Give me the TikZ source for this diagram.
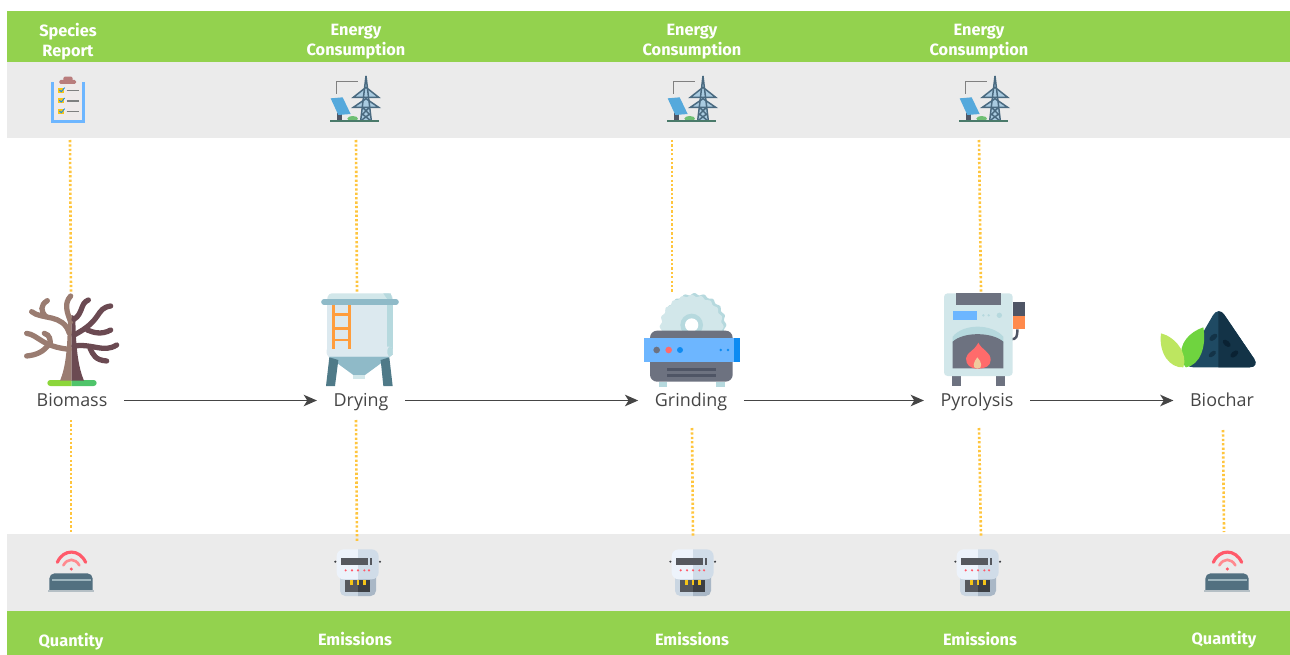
\documentclass[tikz,border=0pt]{standalone}
\usepackage{fontspec}
\setmainfont{Open Sans}
\newfontfamily\bandfont{Fira Sans}
\usetikzlibrary{arrows.meta}
\definecolor{bandgreen}{HTML}{93D24E}
\definecolor{bandgray}{HTML}{EBEBEB}
\definecolor{dotorange}{HTML}{FFC53D}
\definecolor{flowgray}{HTML}{454545}
\definecolor{barklight}{HTML}{9A7C71}
\definecolor{barkdark}{HTML}{6B4A52}
\definecolor{steel}{HTML}{6D7280}
\definecolor{darksteel}{HTML}{4F5565}
\definecolor{iceblue}{HTML}{D2E7EA}
\definecolor{paleblue}{HTML}{DCE9EF}
\definecolor{midblue}{HTML}{B6D9DE}
\definecolor{hopperblue}{HTML}{8FBAC8}
\definecolor{legblue}{HTML}{4F7A88}
\definecolor{skyblue}{HTML}{6DB6FF}
\definecolor{deepblue}{HTML}{0D8BF2}
\definecolor{ladderorange}{HTML}{FF9D3C}
\definecolor{softorange}{HTML}{FF8A4C}
\definecolor{flamered}{HTML}{FF6B6B}
\definecolor{flamecore}{HTML}{EFCB9E}
\definecolor{groundlight}{HTML}{8CD63A}
\definecolor{groundright}{HTML}{4FC46A}
\definecolor{charlight}{HTML}{1F4A63}
\definecolor{chardark}{HTML}{133347}
\definecolor{chardeep}{HTML}{0A2233}
\definecolor{leaflight}{HTML}{BDE660}
\definecolor{leafdark}{HTML}{6FD43F}
\definecolor{clipbrown}{HTML}{B97C7C}
\definecolor{checkyellow}{HTML}{F5C518}
\definecolor{paper}{HTML}{EFEAEA}
\definecolor{towerline}{HTML}{4A6A80}
\definecolor{towerfill}{HTML}{A9CBE0}
\definecolor{panelblue}{HTML}{55A9DC}
\definecolor{basegreen}{HTML}{4A7A6A}
\definecolor{bushgreen}{HTML}{6FBF73}
\definecolor{sensorbody}{HTML}{527080}
\definecolor{sensorline}{HTML}{9DB5BE}
\definecolor{sensorbase}{HTML}{B5BFC5}
\definecolor{wifired}{HTML}{FF5A6A}
\definecolor{wifisoft}{HTML}{FF8A8F}
\definecolor{plateleft}{HTML}{EDF3FB}
\definecolor{plateright}{HTML}{D0DCE8}
\definecolor{backleft}{HTML}{CAD6E2}
\definecolor{backright}{HTML}{A9B7C6}
\definecolor{windowgray}{HTML}{55585E}
\definecolor{windowdark}{HTML}{3C3F44}
\tikzset{
    bandtext/.style={text=white, align=center, inner sep=0pt, font=\bandfont\bfseries\fontsize{9.3}{11.1}\selectfont},
    stagelabel/.style={text=flowgray, inner xsep=0pt, inner ysep=0pt, text height=7pt, text depth=0pt, outer xsep=9.5pt, font=\fontsize{10.2}{12}\selectfont},
    flowarrow/.style={draw=flowgray, line width=1pt, -{Stealth[length=7.5pt,width=6.5pt,inset=2pt]}},
    dotline/.style={draw=dotorange, line width=1.5pt, dash pattern=on 1.3pt off 1.2pt},
    treeicon/.pic={
        \begin{scope}
            \clip (140,290) rectangle (215,325);
            \fill[rounded corners=1.7pt, groundlight] (142,300) rectangle (290,318);
        \end{scope}
        \begin{scope}
            \clip (215,290) rectangle (300,325);
            \fill[rounded corners=1.7pt, groundright] (142,300) rectangle (290,318);
        \end{scope}
        \fill[barklight] (180,302) .. controls (198,260) and (203,200) .. (204,110) -- (215,105) -- (215,302) -- cycle;
        \fill[barkdark] (252,302) .. controls (234,260) and (227,200) .. (226,110) -- (215,105) -- (215,302) -- cycle;
        \begin{scope}[draw=barklight, line width=3pt, line cap=round]
            \draw (212,48) .. controls (192,70) and (200,95) .. (212,125);
            \draw (95,95) .. controls (125,120) and (190,100) .. (208,160);
            \draw (142,62) .. controls (120,75) and (122,95) .. (138,110);
            \draw (80,160) .. controls (115,165) and (125,200) .. (208,208);
            \draw (133,160) .. controls (150,165) and (152,180) .. (150,195);
            \draw (80,228) .. controls (110,225) and (130,215) .. (145,195);
        \end{scope}
        \begin{scope}[draw=barkdark, line width=3pt, line cap=round]
            \draw (265,60) .. controls (240,70) and (250,100) .. (222,118);
            \draw (332,78) .. controls (285,85) and (310,120) .. (222,165);
            \draw (332,150) .. controls (305,165) and (280,158) .. (262,150);
            \draw (350,195) .. controls (310,220) and (280,190) .. (222,198);
            \draw (320,243) .. controls (285,240) and (280,225) .. (270,205);
        \end{scope}
    },
    siloicon/.pic={
        \fill[rounded corners=2pt, iceblue] (980,66) -- (985,40) -- (1175,40) -- (1180,66) -- cycle;
        \fill[midblue] (1150,40) -- (1172,40) -- (1178,62) -- (1165,62) -- cycle;
        \fill[paleblue] (980,70) rectangle (1178,225);
        \fill[midblue] (1162,70) rectangle (1178,225);
        \fill[rounded corners=2pt, paleblue] (980,200) -- (980,230) -- (1178,230) -- (1178,200) -- cycle;
        \fill[rounded corners=2pt, midblue] (1162,200) -- (1162,230) -- (1178,230) -- (1178,200) -- cycle;
        \fill[hopperblue] (985,230) -- (1170,230) -- (1095,285) -- (1060,285) -- cycle;
        \fill[iceblue] (1060,285) rectangle (1095,298);
        \fill[legblue] (988,232) -- (1015,240) -- (1005,318) -- (978,318) -- cycle;
        \fill[legblue] (1142,240) -- (1168,232) -- (1178,318) -- (1150,318) -- cycle;
        \draw[line width=3.2pt, line cap=round, hopperblue] (972,66) -- (1188,66);
        \begin{scope}[draw=ladderorange, line width=1.5pt]
            \draw (1000,75) -- (1000,208);
            \draw (1048,75) -- (1048,208);
            \draw (1000,103) -- (1048,103);
            \draw (1000,145) -- (1048,145);
            \draw (1000,180) -- (1048,180);
        \end{scope}
    },
    grindericon/.pic={
        \fill[midblue] plot[domain=0:360, samples=181, smooth] ({223+(93+3*cos(20*\x))*cos(\x)},{135+(93+3*cos(20*\x))*sin(\x)});
        \fill[iceblue] plot[domain=0:360, samples=181, smooth] ({215+(93+3*cos(20*\x))*cos(\x)},{140+(93+3*cos(20*\x))*sin(\x)});
        \fill[midblue] (215,135) circle[radius=34];
        \fill[white] (215,135) circle[radius=20];
        \fill[midblue] (117,305) rectangle (140,322);
        \fill[midblue] (288,305) rectangle (315,322);
        \fill[rounded corners=4pt, steel] (90,152) rectangle (338,305);
        \fill[skyblue] (72,175) rectangle (342,245);
        \fill[deepblue] (342,175) rectangle (360,245);
        \fill[steel] (110,210) circle[radius=10];
        \fill[flamered] (146,210) circle[radius=10];
        \fill[deepblue] (180,210) circle[radius=9];
        \fill[deepblue] (302,210) circle[radius=4];
        \fill[deepblue] (324,210) circle[radius=4];
        \fill[darksteel] (140,264) rectangle (288,272);
        \fill[darksteel] (140,283) rectangle (288,291);
    },
    furnaceicon/.pic={
        \fill[steel] (995,280) rectangle (1022,318);
        \fill[steel] (1128,280) rectangle (1156,318);
        \draw[line width=1.4pt, darksteel] (1192,148) .. controls (1192,170) and (1190,178) .. (1172,178);
        \fill[darksteel] (1178,66) rectangle (1215,108);
        \fill[softorange] (1178,108) rectangle (1215,148);
        \fill[rounded corners=2pt, iceblue] (972,40) rectangle (1178,288);
        \fill[steel] (1008,40) rectangle (1142,74);
        \fill[skyblue] (998,94) rectangle (1070,120);
        \fill[midblue] (1090,106) circle[radius=4];
        \fill[midblue] (1106,106) circle[radius=4];
        \fill[midblue] (1138,106) circle[radius=8];
        \fill[midblue] (998,170) .. controls (1030,130) and (1115,130) .. (1150,170) -- (1150,190) -- (998,190) -- cycle;
        \fill[steel] (998,265) -- (998,185) .. controls (1030,155) and (1115,155) .. (1150,185) -- (1150,265) -- cycle;
        \fill[flamered] (1075,188) .. controls (1085,210) and (1112,215) .. (1112,240) .. controls (1112,258) and (1095,266) .. (1075,266) .. controls (1050,266) and (1038,255) .. (1038,235) .. controls (1038,220) and (1065,210) .. (1075,188);
        \fill[flamecore] (1072,232) .. controls (1085,245) and (1090,266) .. (1072,266) .. controls (1055,266) and (1060,245) .. (1072,232);
    },
    charicon/.pic={
        \fill[rounded corners=6pt, charlight] (355,48) -- (248,232) -- (480,232) -- cycle;
        \begin{scope}
            \clip (355,0) rectangle (500,300);
            \fill[rounded corners=6pt, chardark] (355,48) -- (248,232) -- (480,232) -- cycle;
        \end{scope}
        \fill[leafdark] (310,112) .. controls (270,125) and (235,160) .. (245,205) .. controls (248,220) and (255,230) .. (258,232) .. controls (300,225) and (320,170) .. (310,112) -- cycle;
        \fill[leaflight] (183,130) .. controls (225,140) and (265,190) .. (250,232) .. controls (210,235) and (175,190) .. (183,130) -- cycle;
        \fill[chardark, rotate around={40:(340,142)}] (340,142) ellipse[x radius=14, y radius=8];
        \fill[chardeep, rotate around={-40:(380,160)}] (380,160) ellipse[x radius=14, y radius=8];
        \fill[chardark, rotate around={40:(337,192)}] (337,192) ellipse[x radius=13, y radius=7];
        \fill[chardeep, rotate around={40:(403,192)}] (403,192) ellipse[x radius=14, y radius=8];
    },
    clipboardicon/.pic={
        \fill[skyblue] (152,245) rectangle (255,370);
        \fill[paper] (162,245) rectangle (245,360);
        \fill[rounded corners=0.8pt, clipbrown] (178,240) rectangle (228,252);
        \fill[rounded corners=0.8pt, clipbrown] (190,230) rectangle (218,244);
        \fill[checkyellow] (175,263) rectangle (192,279);
        \fill[checkyellow] (175,294) rectangle (192,310);
        \fill[checkyellow] (175,326) rectangle (192,342);
        \draw[deepblue, line width=0.5pt] (178,270) -- (184,275) -- (194,263);
        \draw[deepblue, line width=0.5pt] (178,301) -- (184,306) -- (194,294);
        \draw[deepblue, line width=0.5pt] (178,333) -- (184,338) -- (194,326);
        \draw[gray, line width=0.6pt] (200,272) -- (238,272);
        \draw[gray, line width=0.6pt] (200,303) -- (238,303);
        \draw[gray, line width=0.6pt] (200,335) -- (238,335);
    },
    pylonicon/.pic={
        \draw[line width=0.8pt, gray] (1010,282) -- (1010,245) -- (1075,245);
        \fill[darksteel] (1010,340) rectangle (1026,362);
        \fill[panelblue] (992,295) -- (1028,292) -- (1052,342) -- (1015,345) -- cycle;
        \fill[bushgreen] (1058,356) ellipse[x radius=16, y radius=8];
        \fill[towerfill] (1098,228) -- (1114,362) -- (1082,362) -- cycle;
        \fill[towerfill] (1060,292) -- (1098,262) -- (1136,292) -- cycle;
        \fill[towerfill] (1060,322) -- (1098,296) -- (1136,322) -- cycle;
        \begin{scope}[draw=towerline, line width=0.85pt]
            \draw (1098,228) -- (1082,362);
            \draw (1098,228) -- (1114,362);
            \draw (1060,292) -- (1098,262) -- (1136,292) -- cycle;
            \draw (1060,322) -- (1098,296) -- (1136,322) -- cycle;
            \draw (1088,322) -- (1110,345) (1108,322) -- (1086,345);
            \draw (1087,342) -- (1112,362) (1109,342) -- (1083,362);
        \end{scope}
        \draw[line width=1pt, basegreen] (990,364) -- (1137,364);
    },
    sensoricon/.pic={
        \fill[rounded corners=3pt, sensorbody] (148,195) -- (148,130) -- (278,130) -- (278,195) -- cycle;
        \fill[bandgray] (140,187) rectangle (290,200);
        \fill[sensorbase] (143,180) rectangle (282,187);
        \draw[line width=0.6pt, sensorline] (157,150) -- (272,150);
        \draw[line width=1.8pt, wifired, line cap=round] (172,97) .. controls (190,56) and (238,56) .. (257,97);
        \draw[line width=1.5pt, wifisoft, line cap=round] (190,106) .. controls (202,84) and (226,84) .. (238,106);
        \fill[wifired] (214,117) circle[radius=5];
    },
    metericon/.pic={
        \begin{scope}
            \clip (1000,120) rectangle (1074,205);
            \fill[rounded corners=3pt, backleft] (1020,120) rectangle (1128,198);
        \end{scope}
        \begin{scope}
            \clip (1074,120) rectangle (1140,205);
            \fill[rounded corners=3pt, backright] (1020,120) rectangle (1128,198);
        \end{scope}
        \fill[windowgray] (1034,150) rectangle (1074,185);
        \fill[windowdark] (1074,150) rectangle (1110,185);
        \fill[checkyellow] (1051,150) rectangle (1059,166);
        \fill[checkyellow] (1070,150) rectangle (1078,166);
        \fill[checkyellow] (1089,150) rectangle (1097,166);
        \begin{scope}
            \clip (1000,50) rectangle (1074,155);
            \fill[rounded corners=4pt, plateleft] (1010,58) rectangle (1136,148);
        \end{scope}
        \begin{scope}
            \clip (1074,50) rectangle (1145,155);
            \fill[rounded corners=4pt, plateright] (1010,58) rectangle (1136,148);
        \end{scope}
        \fill[windowgray] (1024,85) rectangle (1105,106);
        \fill[windowgray] (1110,85) rectangle (1116,106);
        \fill[wifired] (1037,121) circle[radius=3.5];
        \fill[wifired] (1056,121) circle[radius=3.5];
        \fill[wifired] (1074,121) circle[radius=3.5];
        \fill[wifired] (1093,121) circle[radius=3.5];
        \fill[wifired] (1107,121) circle[radius=3.5];
        \fill[windowdark] (1006,95) circle[radius=3.5];
        \fill[windowdark] (1140,95) circle[radius=3.5];
    }
}
\begin{document}
\begin{tikzpicture}[x=0.02cm, y=-0.02cm]
    \useasboundingbox (0,0) rectangle (1290,655);
    % bands
    \fill[bandgreen](7,11) rectangle (1290,62);
    \fill[bandgray](7,62) rectangle (1290,138);
    \fill[bandgray](7,534) rectangle (1290,611);
    \fill[bandgreen](7,611) rectangle (1290,655);
    % band texts
    \node[bandtext] (reportText) at (68,41.5) {Species\\Report};
    \node[bandtext] (energyA) at (356,41.5) {Energy\\Consumption};
    \node[bandtext] (energyB) at (692,41.5) {Energy\\Consumption};
    \node[bandtext] (energyC) at (979,41.5) {Energy\\Consumption};
    \node[bandtext] (quantityA) at (71,642) {Quantity};
    \node[bandtext] (emissionsA) at (355,639.5) {Emissions};
    \node[bandtext] (emissionsB) at (692,639.5) {Emissions};
    \node[bandtext] (emissionsC) at (980,639.5) {Emissions};
    \node[bandtext] (quantityB) at (1224,640) {Quantity};
    % stages
    \node[stagelabel] (biomass) at (72,400.5) {Biomass};
    \node[stagelabel] (drying) at (361,400.5) {Drying};
    \node[stagelabel] (grinding) at (691,400.5) {Grinding};
    \node[stagelabel] (pyrolysis) at (977,400.5) {Pyrolysis};
    \node[stagelabel] (biochar) at (1222,400.5) {Biochar};
    \draw[flowarrow](biomass.east)--(drying.west);
    \draw[flowarrow](drying.east)--(grinding.west);
    \draw[flowarrow](grinding.east)--(pyrolysis.west);
    \draw[flowarrow](pyrolysis.east)--(biochar.west);
    % dotted links
    \coordinate (reportEnd) at (70,140);
    \coordinate (treeTop) at (71,292);
    \coordinate (treeBottom) at (71,420);
    \coordinate (sensorA) at (71,532);
    \coordinate (pylonA) at (356,140);
    \coordinate (siloTop) at (357,292);
    \coordinate (siloBottom) at (356,420);
    \coordinate (meterA) at (357,542);
    \coordinate (pylonB) at (672,140);
    \coordinate (gearTop) at (672,292);
    \coordinate (gearBottom) at (692,428);
    \coordinate (meterB) at (693,537);
    \coordinate (pylonC) at (979,140);
    \coordinate (furnaceTop) at (981,292);
    \coordinate (furnaceBottom) at (979,428);
    \coordinate (meterC) at (981,537);
    \coordinate (charBottom) at (1223,430);
    \coordinate (sensorB) at (1224,532);
    \draw[dotline](reportEnd)--(treeTop);
    \draw[dotline](treeBottom)--(sensorA);
    \draw[dotline](pylonA)--(siloTop);
    \draw[dotline](siloBottom)--(meterA);
    \draw[dotline](pylonB)--(gearTop);
    \draw[dotline](gearBottom)--(meterB);
    \draw[dotline](pylonC)--(furnaceTop);
    \draw[dotline](furnaceBottom)--(meterC);
    \draw[dotline](charBottom)--(sensorB);
    % icons
    \pic[scale=1/3] at (0,0) {clipboardicon};
    \pic[scale=1/3] at (0,0) {pylonicon};
    \pic[scale=1/3] at (337,0) {pylonicon};
    \pic[scale=1/3] at (629,0) {pylonicon};
    \pic[scale=1/3] at (0,280) {treeicon};
    \pic[scale=1/3] at (0,280) {siloicon};
    \pic[scale=1/3] at (620,280) {grindericon};
    \pic[scale=1/3] at (620,280) {furnaceicon};
    \pic[scale=1/3] at (1100,290) {charicon};
    \pic[scale=1/3] at (0,530) {sensoricon};
    \pic[scale=1/3] at (1156,530) {sensoricon};
    \pic[scale=1/3] at (0,530) {metericon};
    \pic[scale=1/3] at (335,530) {metericon};
    \pic[scale=1/3] at (620,530) {metericon};
\end{tikzpicture}
\end{document}
